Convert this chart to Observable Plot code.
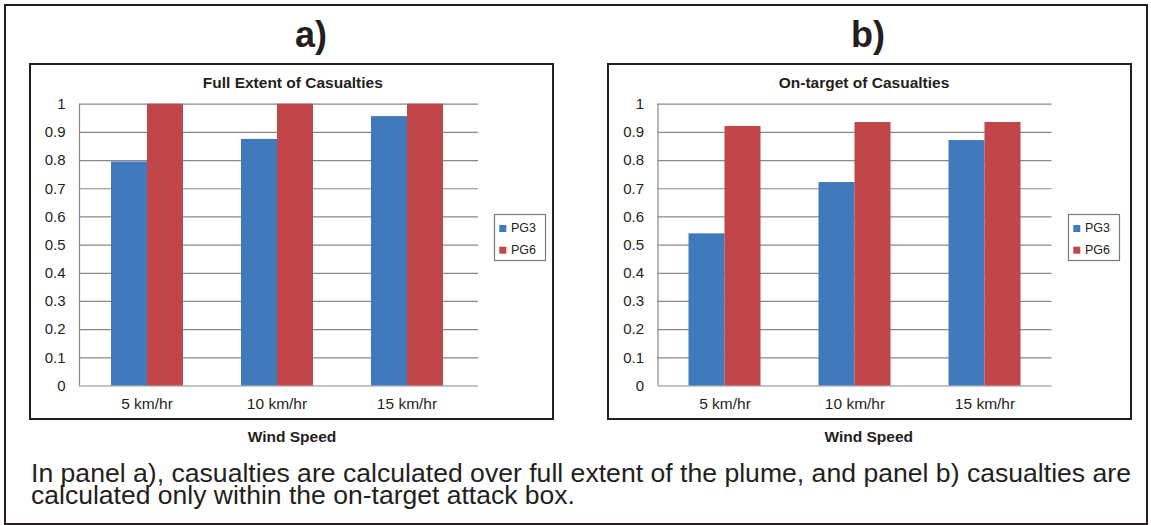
<!DOCTYPE html>
<html><head><meta charset="utf-8">
<script src="https://cdn.jsdelivr.net/npm/d3@7"></script>
<script src="https://cdn.jsdelivr.net/npm/@observablehq/plot@0.6"></script>
<style>
body{margin:0;background:#fff;}
#root{position:relative;width:1151px;height:525px;overflow:hidden;font-family:"Liberation Sans",Arial,Helvetica,sans-serif;color:#231f20;background:#fff;}
.abs{position:absolute;box-sizing:border-box;}
</style></head><body><div id="root"></div>
<script>
// ---- data ----
const speeds = ["5 km/hr", "10 km/hr", "15 km/hr"];
const seriesNames = ["PG3", "PG6"];
const seriesColors = ["#4179bd", "#c0464a"];
const fullPG3 = [0.795, 0.875, 0.956];
const fullPG6 = [1.0, 1.0, 1.0];
const onPG3 = [0.540, 0.722, 0.871];
const onPG6 = [0.921, 0.935, 0.935];
const yTicks = [0, 0.1, 0.2, 0.3, 0.4, 0.5, 0.6, 0.7, 0.8, 0.9, 1];
const yTickLabels = ["0", "0.1", "0.2", "0.3", "0.4", "0.5", "0.6", "0.7", "0.8", "0.9", "1"];
const panelLetters = ["a)", "b)"];
const panelTitles = ["Full Extent of Casualties", "On-target of Casualties"];
const xAxisTitle = "Wind Speed";
const captionLines = [
  "In panel a), casualties are calculated over full extent of the plume, and panel b) casualties are",
  "calculated only within the on-target attack box."
];

function rowsFor(pg3, pg6) {
  const rows = [];
  speeds.forEach((s, i) => {
    rows.push({speed: s, series: seriesNames[0], value: pg3[i]});
    rows.push({speed: s, series: seriesNames[1], value: pg6[i]});
  });
  return rows;
}

// ---- layout ----
const panels = [
  {rows: rowsFor(fullPG3, fullPG6), box: {l: 30, t: 64, r: 553, b: 419}, grid: {l: 79, r: 478}, bars: {l: 81, r: 471},
   letterX: 311, titleX: 292.8, axisTitleX: 292, legend: {l: 494, t: 214}},
  {rows: rowsFor(onPG3, onPG6), box: {l: 607.5, t: 64, r: 1131, b: 419}, grid: {l: 657, r: 1051}, bars: {l: 659, r: 1049},
   letterX: 868, titleX: 864, axisTitleX: 868.7, legend: {l: 1068, t: 214}}
];
const yTopPx = 103.7, yZeroPx = 385.5;
const gridColor = "#898989";
const textColor = "#231f20";
const FONT = '"Liberation Sans", Arial, Helvetica, sans-serif';

const root = document.getElementById("root");

function addDiv(style) {
  const d = document.createElement("div");
  d.className = "abs";
  Object.assign(d.style, style);
  root.appendChild(d);
  return d;
}

// outer frame
addDiv({left: "4px", top: "4px", width: "1144px", height: "521px", border: "2px solid #231f20"});

const pi = 1 - 73 / 130;

panels.forEach((p, k) => {
  const b = p.box;
  addDiv({left: (b.l - 1) + "px", top: (b.t - 1) + "px", width: (b.r - b.l + 2) + "px", height: (b.b - b.t + 2) + "px", border: "2px solid #231f20"});
  const W = b.r - b.l, H = b.b - b.t;
  const mt = yTopPx - b.t, mb = b.b - yZeroPx;
  const style = {background: "transparent", overflow: "visible", fontFamily: FONT, fontSize: "15px", color: textColor};

  const back = Plot.plot({
    width: W, height: H,
    marginLeft: p.grid.l - b.l, marginRight: b.r - p.grid.r, marginTop: mt, marginBottom: mb,
    style,
    x: {domain: [0, 1], axis: null},
    y: {domain: [0, 1], ticks: yTicks, tickFormat: d => yTickLabels[yTicks.indexOf(d)], tickSize: 0, tickPadding: 14, label: null},
    marks: [
      Plot.ruleY(yTicks, {stroke: gridColor, strokeWidth: 1.2}),
      Plot.ruleX([0], {stroke: gridColor, strokeWidth: 1.2})
    ]
  });
  const front = Plot.plot({
    width: W, height: H,
    marginLeft: p.bars.l - b.l, marginRight: b.r - p.bars.r, marginTop: mt, marginBottom: mb,
    style: Object.assign({}, style, {fontSize: "15.5px"}),
    facet: {data: p.rows, x: "speed"},
    fx: {domain: speeds, paddingInner: pi, paddingOuter: pi / 2, axis: "bottom", tickSize: 0, tickPadding: 11.5, label: null},
    x: {domain: seriesNames, padding: 0, axis: null},
    y: {domain: [0, 1], axis: null},
    color: {domain: seriesNames, range: seriesColors},
    marks: [
      Plot.barY(p.rows, {x: "series", y: "value", fill: "series"})
    ]
  });
  [back, front].forEach(svg => {
    const holder = addDiv({left: b.l + "px", top: b.t + "px", width: W + "px", height: H + "px"});
    holder.appendChild(svg);
  });
});

// overlay text
const ns = "http://www.w3.org/2000/svg";
const ov = document.createElementNS(ns, "svg");
ov.setAttribute("width", 1151); ov.setAttribute("height", 525);
ov.style.position = "absolute"; ov.style.left = "0"; ov.style.top = "0";
ov.style.fontFamily = FONT;
root.appendChild(ov);
function txt(s, x, y, size, weight, anchor, extra) {
  const t = document.createElementNS(ns, "text");
  t.textContent = s;
  t.setAttribute("x", x); t.setAttribute("y", y);
  t.setAttribute("font-size", size);
  t.setAttribute("font-weight", weight || "normal");
  t.setAttribute("text-anchor", anchor || "start");
  t.setAttribute("fill", textColor);
  if (extra) for (const k in extra) t.setAttribute(k, extra[k]);
  ov.appendChild(t);
  return t;
}
function rect(x, y, w, h, attrs) {
  const r = document.createElementNS(ns, "rect");
  r.setAttribute("x", x); r.setAttribute("y", y); r.setAttribute("width", w); r.setAttribute("height", h);
  for (const k in attrs) r.setAttribute(k, attrs[k]);
  ov.appendChild(r);
}
panels.forEach((p, k) => {
  txt(panelLetters[k], p.letterX, 47, 36, "bold", "middle");
  txt(panelTitles[k], p.titleX, 88, 15.5, "bold", "middle");
  txt(xAxisTitle, p.axisTitleX, 441.7, 15.5, "bold", "middle");
  const L = p.legend;
  rect(L.l + 0.5, L.t + 0.5, 51, 46, {fill: "none", stroke: "#7a7a7a", "stroke-width": 1.2});
  seriesNames.forEach((s, i) => {
    rect(L.l + 5.3, L.t + 11 + i * 21.7, 7, 7, {fill: seriesColors[i]});
    txt(s, L.l + 17, L.t + 18.3 + i * 21.2, 12.5, "normal", "start");
  });
});
txt(captionLines[0], 31, 481.5, 25.5, "normal", "start", {textLength: 1100, lengthAdjust: "spacingAndGlyphs"});
txt(captionLines[1], 31, 504, 25.5, "normal", "start", {textLength: 544, lengthAdjust: "spacingAndGlyphs"});
</script></body></html>
